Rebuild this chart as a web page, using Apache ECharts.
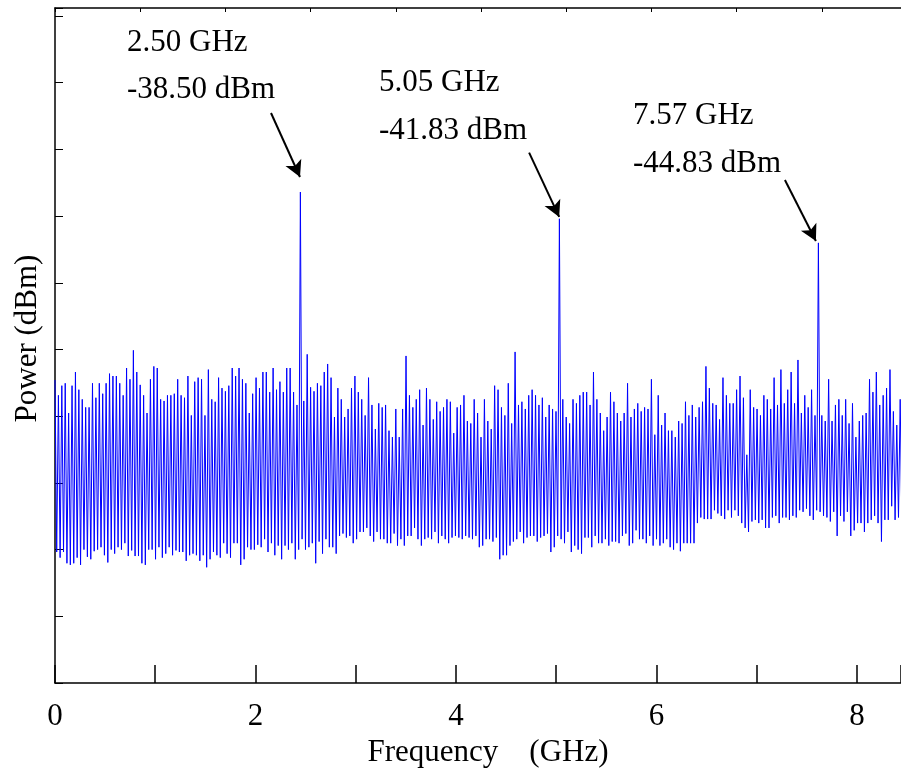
<!DOCTYPE html>
<html><head><meta charset="utf-8">
<script src="https://cdn.jsdelivr.net/npm/echarts@6/dist/echarts.min.js"></script>
<style>html,body{margin:0;padding:0;background:#fff}#chart{width:901px;height:772px}</style>
</head><body><div id="chart"></div>
<script>
// frequency spacing between spectrum samples (GHz)
const freqStep = 0.017;
// upper (local max) samples of the spectrum, dBm, in order of frequency
const spectrumTops = [
-61.9,-63.8,-62.6,-62.3,-66.0,-62.6,-60.9,-63.1,-64.3,-65.3,-65.3,-62.3,-64.1,-62.3,-63.6,-62.3,-61.1,-61.4,-61.4,-62.3,-63.8,-60.4,-61.8,-58.2,-60.9,-62.5,-63.8,-66.0,-61.8,-60.2,-60.4,-64.3,-64.5,-63.8,-63.8,-63.6,-61.8,-63.8,-64.1,-61.4,
-66.3,-62.1,-61.6,-61.8,-66.3,-60.6,-64.3,-64.6,-61.6,-62.9,-63.3,-62.6,-60.4,-61.4,-60.4,-61.8,-62.3,-66.0,-63.6,-61.6,-62.9,-60.9,-60.9,-63.4,-60.4,-63.1,-62.1,-63.4,-60.4,-60.4,-63.4,-65.0,-38.5,-64.5,-58.7,-62.8,-63.3,-62.3,-62.6,-60.9,-59.9,-61.6,-66.5,
-62.9,-64.3,-66.5,-65.5,-62.9,-61.4,-63.4,-64.3,-66.3,-61.6,-65.0,-68.0,-64.8,-65.3,-65.0,-68.2,-69.0,-65.5,-69.0,-65.5,-58.9,-63.8,-65.3,-64.3,-63.1,-67.5,-62.9,-64.3,-66.8,-64.6,-65.8,-65.3,-64.3,-64.6,-68.5,-65.3,-65.0,-63.8,-67.0,-67.3,-64.3,-66.0,
-69.0,-64.3,-67.0,-68.0,-62.6,-63.1,-65.3,-66.3,-62.3,-67.3,-58.4,-65.0,-64.6,-65.5,-63.8,-63.1,-63.8,-65.0,-64.1,-66.5,-65.0,-65.5,-65.8,-41.83,-64.3,-66.5,-67.3,-64.3,-64.8,-63.8,-63.4,-63.4,-65.0,-60.9,-64.3,-66.0,-68.2,-66.5,-63.4,-64.6,-66.0,-67.0,-66.0,
-62.3,-66.5,-65.5,-64.8,-65.8,-65.3,-65.5,-61.8,-68.7,-63.8,-67.5,-66.0,-68.2,-68.2,-69.0,-67.0,-67.3,-64.6,-66.3,-65.0,-66.5,-65.3,-64.6,-60.2,-62.9,-64.8,-65.0,-66.8,-61.6,-63.8,-64.8,-64.8,-63.1,-61.4,-64.1,-71.2,-63.1,-65.3,-65.5,-66.3,-63.8,-64.3,-65.5,
-61.6,-65.0,-60.6,-64.8,-63.1,-60.9,-64.8,-59.4,-66.0,-63.8,-65.3,-63.1,-66.3,-44.83,-66.3,-67.0,-61.8,-67.0,-65.0,-64.3,-66.3,-64.3,-67.3,-64.8,-69.0,-67.0,-66.3,-66.0,-61.8,-63.4,-60.9,-65.0,-63.8,-62.9,-60.6,-65.8,-67.5,-64.3,-61.4
];
// lower (local min) samples of the spectrum, dBm
const spectrumBottoms = [
-83.3,-84.0,-83.3,-84.7,-84.9,-84.7,-84.0,-84.9,-83.0,-83.9,-84.2,-83.2,-83.0,-82.7,-83.7,-84.6,-83.0,-83.5,-82.7,-83.0,-82.2,-83.8,-83.1,-83.8,-83.8,-84.7,-84.9,-83.0,-83.0,-84.2,-82.7,-84.0,-83.5,-82.7,-83.7,-83.1,-83.3,-83.3,-84.4,-83.7,
-83.5,-83.7,-84.4,-83.7,-85.2,-84.2,-83.3,-83.7,-84.0,-82.2,-83.5,-84.0,-82.2,-82.2,-84.9,-84.2,-82.7,-83.0,-83.0,-82.4,-82.7,-81.7,-83.3,-82.2,-83.7,-82.5,-84.2,-82.5,-83.0,-82.2,-84.2,-83.0,-81.7,-83.0,-82.7,-82.2,-84.7,-82.0,-83.5,-81.7,-82.7,-82.7,
-83.5,-81.3,-81.0,-81.5,-81.3,-82.2,-81.7,-80.8,-80.8,-80.3,-81.3,-82.0,-80.8,-81.7,-81.7,-82.2,-82.2,-81.0,-82.5,-81.7,-82.5,-81.3,-81.3,-80.3,-81.7,-82.5,-81.7,-81.5,-81.7,-80.8,-82.2,-81.3,-81.7,-82.2,-81.5,-81.3,-81.5,-81.7,-81.3,-81.5,-81.7,
-81.3,-82.7,-82.5,-81.7,-81.7,-82.0,-81.5,-84.2,-83.7,-83.7,-82.5,-82.0,-81.7,-80.8,-82.2,-81.5,-81.3,-81.3,-82.0,-81.5,-81.3,-81.0,-83.3,-82.7,-81.3,-81.7,-82.2,-80.8,-83.3,-82.5,-83.0,-83.5,-81.5,-81.5,-82.7,-81.3,-82.2,-82.2,-81.7,-82.5,-82.0,-82.0,
-82.2,-81.3,-81.0,-82.5,-82.2,-80.6,-81.7,-81.7,-82.2,-81.3,-82.5,-81.7,-82.5,-82.2,-81.7,-82.7,-83.0,-82.2,-83.2,-82.2,-82.2,-82.2,-82.2,-79.7,-79.0,-79.2,-79.2,-79.2,-78.1,-78.5,-78.8,-79.2,-78.1,-79.0,-78.1,-78.8,-79.7,-80.3,-80.8,-79.5,-79.3,-79.7,-79.3,-80.3,
-80.3,-79.0,-78.8,-79.7,-79.0,-79.0,-79.3,-78.8,-79.0,-78.1,-78.3,-77.9,-78.8,-79.3,-78.1,-78.3,-78.8,-79.0,-79.5,-78.3,-81.3,-78.8,-79.5,-78.3,-81.3,-80.6,-79.7,-79.7,-80.8,-79.7,-79.3,-78.8,-79.7,-82.0,-79.3,-79.3,-77.6,-79.3,-79.0,-80.2,-78.6
];
// annotation texts
const annotationLines = ['2.50 GHz','-38.50 dBm','5.05 GHz','-41.83 dBm','7.57 GHz','-44.83 dBm'];
// arrows: [start, end] in data coordinates (GHz, dBm)
const arrowStarts = [[2.155,-28.67],[4.73,-33.6],[7.282,-37.0]];
const arrowEnds = [[2.444,-36.63],[5.03,-41.6],[7.591,-44.6]];
const xTickLabels = [0,2,4,6,8];

const spectrum = [];
for (let i = 0; i < spectrumTops.length; i++) {
  spectrum.push([(2*i)*freqStep, spectrumTops[i]]);
  if (i < spectrumBottoms.length) spectrum.push([(2*i+1)*freqStep, spectrumBottoms[i]]);
}

const FONT = '"Liberation Serif", "Times New Roman", serif';
const textPos = [[127,42.5],[127,89.5],[379,83],[379,131],[633,116],[633,164]];

const chart = echarts.init(document.getElementById('chart'), null, {renderer:'canvas'});
chart.setOption({
  animation: false,
  backgroundColor: '#ffffff',
  grid: {left:55, right:0, top:8, bottom:89, containLabel:false, outerBoundsMode:'none'},
  xAxis: [{
    type:'value', position:'bottom', min:0, max:8.44, interval:1,
    axisLine:{show:true, onZero:false, lineStyle:{color:'#000', width:1.5}},
    axisTick:{show:true, inside:true, length:18, lineStyle:{color:'#000', width:1.5}},
    axisLabel:{show:true, margin:18, color:'#000', fontFamily:FONT, fontSize:31,
      formatter: v => xTickLabels.indexOf(Math.round(v*100)/100) >= 0 ? String(Math.round(v)) : ''},
    splitLine:{show:false},
    name:'Frequency    (GHz)', nameLocation:'middle', nameGap:50,
    nameTextStyle:{color:'#000', fontFamily:FONT, fontSize:31, padding:[0,0,0,20]}
  },{
    type:'value', position:'top', min:0, max:8.44, interval:0.85,
    axisLine:{show:true, onZero:false, lineStyle:{color:'#000', width:1.5}},
    axisTick:{show:true, inside:true, length:4, lineStyle:{color:'#000', width:1}},
    axisLabel:{show:false}, splitLine:{show:false}
  }],
  yAxis: {
    type:'value', min:-99.6, max:-15.6, interval:8.3,
    axisLine:{show:true, onZero:false, lineStyle:{color:'#000', width:1.5}},
    axisTick:{show:true, inside:true, length:8, lineStyle:{color:'#000', width:1}},
    axisLabel:{show:false}, splitLine:{show:false},
    name:'Power (dBm)', nameLocation:'middle', nameGap:12, nameRotate:90,
    nameTextStyle:{color:'#000', fontFamily:FONT, fontSize:31, padding:[0,0,0,14]}
  },
  series: [{
    type:'line', data: spectrum, showSymbol:false, symbol:'none', sampling:null,
    lineStyle:{color:'#0000ff', width:1}, clip:true, z:2,
    markLine:{
      silent:true, symbol:['none','arrow'], symbolSize:[13,16],
      lineStyle:{color:'#000', width:2, type:'solid'}, label:{show:false},
      data: arrowStarts.map((s,i) => [{coord:s}, {coord:arrowEnds[i]}])
    }
  }],
  graphic: annotationLines.map((t,i) => ({
    type:'text', x:textPos[i][0], y:textPos[i][1], z:10,
    style:{text:t, fill:'#000', font:'31px ' + FONT, align:'left', verticalAlign:'middle'}
  }))
});
</script>
</body></html>
